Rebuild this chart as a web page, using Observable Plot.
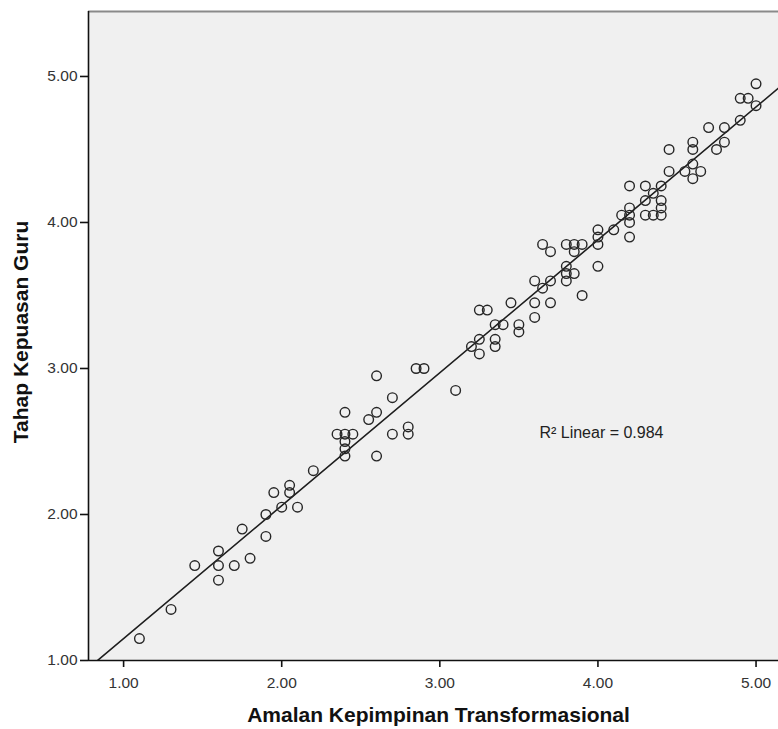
<!DOCTYPE html>
<html>
<head>
<meta charset="utf-8">
<script src="https://cdn.jsdelivr.net/npm/d3@7"></script>
<script src="https://cdn.jsdelivr.net/npm/@observablehq/plot@0.6"></script>
<style>
  html, body { margin: 0; padding: 0; background: #ffffff; }
  svg { display: block; }
</style>
</head>
<body>
<div id="chart"></div>
<script>
// Amalan Kepimpinan Transformasional (x)
const xValues = [
  1.10, 1.30, 1.45, 1.60, 1.60, 1.60, 1.70, 1.75, 1.80, 1.90,
  1.90, 1.95, 2.00, 2.05, 2.05, 2.10, 2.20, 2.35, 2.40, 2.40,
  2.40, 2.40, 2.40, 2.45, 2.55, 2.60, 2.60, 2.60, 2.70, 2.70,
  2.80, 2.80, 2.85, 2.90, 3.10, 3.20, 3.25, 3.25, 3.25, 3.30,
  3.35, 3.35, 3.35, 3.40, 3.45, 3.50, 3.50, 3.60, 3.60, 3.60,
  3.65, 3.65, 3.70, 3.70, 3.70, 3.80, 3.80, 3.80, 3.80, 3.85,
  3.85, 3.85, 3.90, 3.90, 4.00, 4.00, 4.00, 4.00, 4.10, 4.15,
  4.20, 4.20, 4.20, 4.20, 4.20, 4.30, 4.30, 4.30, 4.35, 4.35,
  4.40, 4.40, 4.40, 4.40, 4.45, 4.45, 4.55, 4.60, 4.60, 4.60,
  4.60, 4.65, 4.70, 4.75, 4.80, 4.80, 4.90, 4.90, 4.95, 5.00,
  5.00
];
// Tahap Kepuasan Guru (y)
const yValues = [
  1.15, 1.35, 1.65, 1.75, 1.65, 1.55, 1.65, 1.90, 1.70, 1.85,
  2.00, 2.15, 2.05, 2.20, 2.15, 2.05, 2.30, 2.55, 2.55, 2.70,
  2.50, 2.45, 2.40, 2.55, 2.65, 2.95, 2.70, 2.40, 2.80, 2.55,
  2.60, 2.55, 3.00, 3.00, 2.85, 3.15, 3.20, 3.10, 3.40, 3.40,
  3.30, 3.20, 3.15, 3.30, 3.45, 3.30, 3.25, 3.35, 3.45, 3.60,
  3.55, 3.85, 3.60, 3.45, 3.80, 3.65, 3.70, 3.85, 3.60, 3.85,
  3.65, 3.80, 3.85, 3.50, 3.85, 3.90, 3.95, 3.70, 3.95, 4.05,
  3.90, 4.00, 4.10, 4.25, 4.05, 4.25, 4.05, 4.15, 4.20, 4.05,
  4.10, 4.05, 4.15, 4.25, 4.50, 4.35, 4.35, 4.55, 4.50, 4.40,
  4.30, 4.35, 4.65, 4.50, 4.55, 4.65, 4.70, 4.85, 4.85, 4.95,
  4.80
];
const xTicks = [1, 2, 3, 4, 5];
const yTicks = [1, 2, 3, 4, 5];
const xLabel = "Amalan Kepimpinan Transformasional";
const yLabel = "Tahap Kepuasan Guru";
const r2Text = "R\u00B2 Linear = 0.984";

const xDomain = [0.778, 5.142];
const yDomain = [1.0, 5.445];

const points = xValues.map((x, i) => ({x, y: yValues[i]}));

// least-squares fit line, drawn across the whole axis range (as SPSS does)
const mx = d3.mean(xValues), my = d3.mean(yValues);
const sxy = d3.sum(points, d => (d.x - mx) * (d.y - my));
const sxx = d3.sum(points, d => (d.x - mx) ** 2);
const slope = sxy / sxx;
const intercept = my - slope * mx;
const fitLine = xDomain.map(x => ({x, y: intercept + slope * x}));

const fmt = d => d.toFixed(2);
const font = "'Liberation Sans', Arial, sans-serif";

const chart = Plot.plot({
  width: 778,
  height: 729,
  marginLeft: 88,
  marginRight: 0,
  marginTop: 11,
  marginBottom: 69,
  style: {fontFamily: font, background: "#ffffff", color: "#222"},
  x: {domain: xDomain, label: null},
  y: {domain: yDomain, label: null},
  marks: [
    Plot.frame({fill: "#f0f0f0", stroke: null}),
    Plot.line(fitLine, {x: "x", y: "y", stroke: "#1e1e1e", strokeWidth: 1.6, clip: "frame"}),
    Plot.dot(points, {x: "x", y: "y", r: 4.8, stroke: "#262626", strokeWidth: 1.4, fill: "none"}),
    Plot.ruleY([yDomain[1]], {stroke: "#8a8a8a", strokeWidth: 2}),
    Plot.ruleX([xDomain[0]], {stroke: "#111", strokeWidth: 1.6}),
    Plot.ruleY([yDomain[0]], {stroke: "#111", strokeWidth: 1.6}),
    Plot.axisX({ticks: xTicks, tickFormat: fmt, tickSize: 7, tickPadding: 9, fontSize: 15.5, stroke: "#111", strokeWidth: 1.6, fill: "#333", label: null}),
    Plot.axisY({ticks: yTicks, tickFormat: fmt, tickSize: 8, tickPadding: 3, fontSize: 15.5, stroke: "#111", strokeWidth: 1.6, fill: "#333", label: null}),
    Plot.text([xLabel], {frameAnchor: "bottom", text: d => d, textAnchor: "middle", dx: 5, dy: 55, fontSize: 21, fontWeight: "bold", fill: "#111", lineAnchor: "middle"}),
    Plot.text([yLabel], {frameAnchor: "left", text: d => d, textAnchor: "middle", rotate: -90, dx: -67, dy: -4, fontSize: 21, fontWeight: "bold", fill: "#111", lineAnchor: "middle"}),
    Plot.text([r2Text], {x: [3.63], y: [2.56], text: d => d, textAnchor: "start", fontSize: 16, fill: "#222"})
  ]
});
document.getElementById("chart").appendChild(chart);
</script>
</body>
</html>
